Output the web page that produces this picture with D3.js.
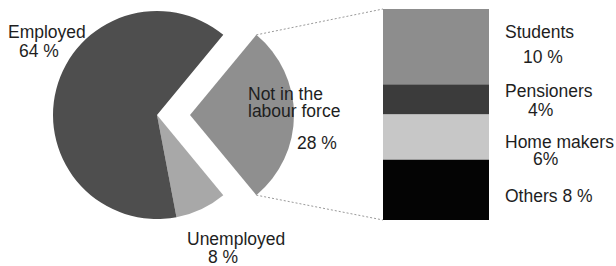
<!DOCTYPE html>
<html>
<head>
<meta charset="utf-8">
<script src="https://cdn.jsdelivr.net/npm/d3@7"></script>
<style>
  html, body { margin: 0; padding: 0; background: #fff; }
  svg text { font-family: "Liberation Sans", Arial, sans-serif; font-size: 17.5px; fill: #1e1e1e; }
</style>
</head>
<body>
<svg id="chart" width="616" height="266"></svg>
<script>
// pie: share of the population
const pieNames = ['Not in the labour force', 'Unemployed', 'Employed'];
const pieValues = [28, 8, 64];
const pieColors = ['#8f8f8f', '#a8a8a8', '#4e4e4e'];

// breakdown of "not in the labour force"
const subNames = ['Students', 'Pensioners', 'Home makers', 'Others'];
const subValues = [10, 4, 6, 8];
const subColors = ['#8d8d8d', '#3b3b3b', '#c7c7c7', '#040404'];

const svg = d3.select('#chart');
const cx = 157, cy = 115, radius = 104, explode = 33;

// start so that the 28 % slice is centred on 3 o'clock
const startAngle = Math.PI / 2 - (pieValues[0] / 100) * Math.PI;
const pie = d3.pie().sort(null).value(d => d)
  .startAngle(startAngle).endAngle(startAngle + 2 * Math.PI);
const arcs = pie(pieValues);
const arc = d3.arc().innerRadius(0).outerRadius(radius);

svg.append('g')
  .attr('transform', `translate(${cx},${cy})`)
  .selectAll('path')
  .data(arcs)
  .enter().append('path')
  .attr('d', arc)
  .attr('fill', (d, i) => pieColors[i])
  .attr('transform', (d, i) => {
    if (i !== 0) return null;
    const mid = (d.startAngle + d.endAngle) / 2;
    return `translate(${Math.sin(mid) * explode},${-Math.cos(mid) * explode})`;
  });

// stacked bar
const barX = 383, barW = 106;
const y = d3.scaleLinear().domain([0, d3.sum(subValues)]).range([9, 220]);
const cum = d3.cumsum(subValues);
const segs = subValues.map((v, i) => ({ name: subNames[i], y0: cum[i] - v, y1: cum[i] }));

svg.append('g').selectAll('rect')
  .data(segs)
  .enter().append('rect')
  .attr('x', barX)
  .attr('width', barW)
  .attr('y', d => y(d.y0))
  .attr('height', d => y(d.y1) - y(d.y0))
  .attr('fill', (d, i) => subColors[i]);

// dotted connector lines from exploded slice to bar
const ex = arcs[0];
const mid = (ex.startAngle + ex.endAngle) / 2;
const ox = cx + Math.sin(mid) * explode, oy = cy - Math.cos(mid) * explode;
const corner = a => [ox + Math.sin(a) * radius, oy - Math.cos(a) * radius];
const [tx, ty] = corner(ex.startAngle);
const [bx, by] = corner(ex.endAngle);
svg.append('g').selectAll('line')
  .data([[tx, ty, y(0)], [bx, by, y(d3.sum(subValues))]])
  .enter().append('line')
  .attr('x1', d => d[0]).attr('y1', d => d[1])
  .attr('x2', barX).attr('y2', d => d[2])
  .attr('stroke', '#9a9a9a')
  .attr('stroke-width', 1)
  .attr('stroke-dasharray', '2,2');

// labels
const labels = [
  { lines: ['Employed', '64 %'], pos: [[8, 38], [19, 57]] },
  { lines: ['Not in the', 'labour force', '28 %'], pos: [[248, 100], [248, 117], [297, 149]] },
  { lines: ['Unemployed', '8 %'], pos: [[187, 245], [208, 263]] },
  { lines: ['Students', '10 %'], pos: [[505, 38], [523, 63]] },
  { lines: ['Pensioners', '4%'], pos: [[505, 97], [528, 116]] },
  { lines: ['Home makers', '6%'], pos: [[505, 148], [533, 165]] },
  { lines: ['Others 8 %'], pos: [[505, 202]] }
];

labels.forEach(l => {
  svg.append('g').selectAll('text')
    .data(l.lines)
    .enter().append('text')
    .attr('x', (d, i) => l.pos[i][0])
    .attr('y', (d, i) => l.pos[i][1])
    .text(d => d);
});
</script>
</body>
</html>
